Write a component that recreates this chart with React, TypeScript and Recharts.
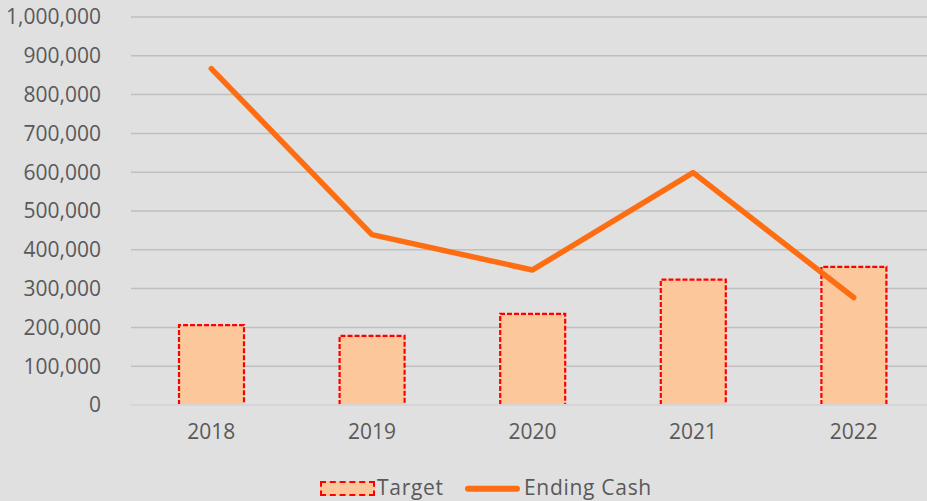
import { ComposedChart, Bar, Line, XAxis, YAxis, CartesianGrid, Legend } from 'recharts';

const YEARS = ['2018', '2019', '2020', '2021', '2022'];
const TARGET = [206000, 178000, 235000, 323000, 356000];
const ENDING_CASH = [867000, 439000, 348000, 599000, 277000];
const Y_TICKS = [0, 100000, 200000, 300000, 400000, 500000, 600000, 700000, 800000, 900000, 1000000];

const data = YEARS.map((year, i) => ({ year, target: TARGET[i], cash: ENDING_CASH[i] }));

const TEXT = '#595959';
const BAR_FILL = '#fcc89b';
const BAR_STROKE = '#ff0000';
const LINE = '#ff6d12';
const FONT = '"Open Sans", sans-serif';

// bar with dashed red border; bottom edge fades under the axis
function TargetBar(props: any) {
  const { x, y, width, height } = props;
  if (!height || height <= 0) return null;
  const b = y + height;
  return (
    <g>
      <rect x={x} y={y} width={width} height={height} fill={BAR_FILL} />
      <path
        d={`M${x},${b} L${x},${y} L${x + width},${y} L${x + width},${b}`}
        fill="none"
        stroke={BAR_STROKE}
        strokeWidth={2.2}
        strokeDasharray="5 2"
      />
      <line x1={x} y1={b} x2={x + width} y2={b} stroke="#f2b4b4" strokeWidth={2} strokeDasharray="5 2" />
    </g>
  );
}

function LegendContent() {
  const label = { position: 'absolute' as const, top: 0, lineHeight: '26px', fontSize: 21, letterSpacing: 0.7, color: TEXT, fontFamily: FONT };
  return (
    <div style={{ position: 'relative', height: 26, width: 934 }}>
      <div
        style={{
          position: 'absolute', left: 320, top: 7, width: 51, height: 11,
          background: BAR_FILL, border: `2px dashed ${BAR_STROKE}`,
        }}
      />
      <span style={{ ...label, left: 377 }}>Target</span>
      <svg style={{ position: 'absolute', left: 462, top: 0 }} width={62} height={26}>
        <line x1={6} y1={14.7} x2={55} y2={14.7} stroke={LINE} strokeWidth={6} strokeLinecap="round" />
      </svg>
      <span style={{ ...label, left: 524 }}>Ending Cash</span>
    </div>
  );
}

export default function App() {
  const tick = { fill: TEXT, fontSize: 21, fontFamily: FONT };
  return (
    <div style={{ position: 'absolute', left: 0, top: 0, width: 927, height: 501, overflow: 'hidden', background: '#e0e0e0' }}>
      <ComposedChart width={934} height={501} data={data} margin={{ top: 17, right: 0, bottom: 1, left: 0 }}>
        <CartesianGrid vertical={false} stroke="#bfbfbf" strokeWidth={1.5} />
        <XAxis
          dataKey="year"
          height={69}
          tick={tick}
          tickLine={false}
          axisLine={{ stroke: '#d6d6d6', strokeWidth: 2 }}
          tickSize={0}
          tickMargin={19}
        />
        <YAxis
          width={131}
          domain={[0, 1000000]}
          ticks={Y_TICKS}
          tickFormatter={(v: number) => v.toLocaleString('en-US')}
          tick={tick}
          tickLine={false}
          axisLine={false}
          tickSize={0}
          tickMargin={30}
        />
        <Legend
          verticalAlign="bottom"
          content={<LegendContent />}
          wrapperStyle={{ left: 0, width: 934, height: 26 }}
        />
        <Bar dataKey="target" name="Target" barSize={65} shape={<TargetBar />} isAnimationActive={false} />
        <Line
          dataKey="cash"
          name="Ending Cash"
          type="linear"
          stroke={LINE}
          strokeWidth={5.5}
          strokeLinecap="round"
          strokeLinejoin="round"
          dot={false}
          activeDot={false}
          isAnimationActive={false}
        />
      </ComposedChart>
    </div>
  );
}
